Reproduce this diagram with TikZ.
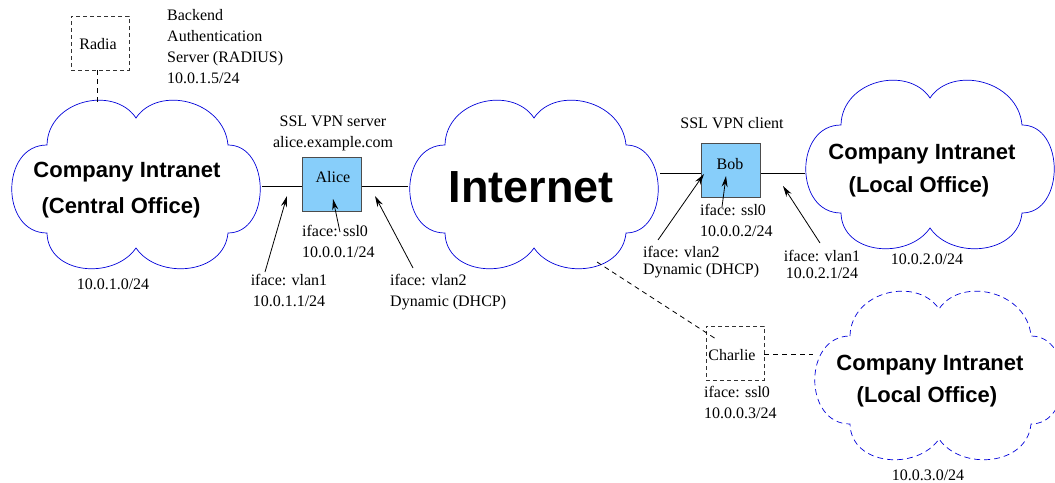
\documentclass[tikz,border=0pt]{standalone}
\usepackage{fontspec}
\setmainfont{Liberation Serif}
\newfontfamily\hv{Liberation Sans}
\usetikzlibrary{arrows.meta}
\tikzset{
  cloudline/.style={draw=blue!85!black, line width=0.7pt},
  hostbox/.style={draw=black!70, line width=1pt, fill={rgb,255:red,135;green,206;blue,250}, minimum width=59pt, minimum height=54pt, inner sep=0pt},
  ghostbox/.style={draw=black!80, dashed, dash pattern=on 4pt off 3pt, line width=0.8pt, minimum width=58pt, minimum height=54pt, inner sep=0pt},
  lbl/.style={font=\fontsize{16}{21}\selectfont, inner sep=0pt},
  lbltight/.style={font=\fontsize{16}{17}\selectfont, inner sep=0pt},
  cloudtxt/.style={font=\hv\bfseries\fontsize{22}{34}\selectfont, inner sep=0pt},
  link/.style={draw=black, line width=0.9pt},
  dlink/.style={draw=black, line width=0.8pt, dashed, dash pattern=on 5pt off 4pt},
  ptr/.style={draw=black, line width=0.8pt, -{Stealth[length=11pt,width=6pt]}},
}
\newcommand{\cloudpath}{(-89,-40) .. controls (-88,-85) and (-22,-100) .. (0,-67)
  .. controls (22,-100) and (88,-85) .. (92,-40)
  .. controls (135,-40) and (135,48) .. (92,48)
  .. controls (88,90) and (22,95) .. (0,63)
  .. controls (-22,95) and (-88,90) .. (-89,48)
  .. controls (-136,48) and (-136,-40) .. (-89,-40) -- cycle}
\begin{document}
\begin{tikzpicture}[x=1pt,y=-1pt]
\useasboundingbox (0,0) rectangle (1055,482);
% clouds
\draw[cloudline, shift={(136,185)}] \cloudpath;
\draw[cloudline, shift={(534,185)}] \cloudpath;
\draw[cloudline, shift={(930,165)}] \cloudpath;
\draw[cloudline, dashed, dash pattern=on 6pt off 4pt, shift={(939,376)}] \cloudpath;

% cloud texts
\node[cloudtxt] (c1a) at (127,172) {Company Intranet};
\node[cloudtxt] (c1b) at (121,208) {(Central Office)};
\node[font=\hv\bfseries\fontsize{45}{50}\selectfont, inner sep=0pt] (inet) at (531,187) {Internet};
\node[cloudtxt] (c2a) at (922,154) {Company Intranet};
\node[cloudtxt] (c2b) at (919,187) {(Local Office)};
\node[cloudtxt] (c3a) at (930,365) {Company Intranet};
\node[cloudtxt] (c3b) at (927,397) {(Local Office)};

% cloud anchor coordinates
\coordinate (cenR) at (262,186);
\coordinate (cenT) at (97,103);
\coordinate (inL) at (408,186);
\coordinate (inR) at (660,173);
\coordinate (inB) at (597,262);
\coordinate (locL) at (805,173);
\coordinate (chcL) at (813,354);

% boxes
\node[hostbox] (alice) at (331.5,184) {};
\node[lbl] (alicet) at (333,177) {Alice};
\node[hostbox] (bob) at (731,170.5) {};
\node[lbl] (bobt) at (730,164) {Bob};
\node[ghostbox] (radia) at (100,43) {};
\node[lbl] (radiat) at (98,44) {Radia};
\node[ghostbox] (charlie) at (735,353) {};
\node[lbl] (charliet) at (732,355) {Charlie};

% links
\draw[link] (cenR) -- (cenR -| alice.west);
\draw[link] (alice.east |- inL) -- (inL);
\draw[link] (inR) -- (inR -| bob.west);
\draw[link] (bob.east |- locL) -- (locL);
\draw[dlink] (radia.south -| cenT) -- (cenT);
\coordinate (chTL) at (716,339);
\draw[dlink] (inB) -- (chTL);
\draw[dlink] (charlie.east |- chcL) -- (chcL);

% labels
\node[lbl, anchor=north west, align=left] (backend) at (167,9) {Backend\\Authentication\\Server (RADIUS)\\10.0.1.5/24};
\node[lbl, align=center] (sslsrv) at (333,133.5) {SSL VPN server\\alice.example.com};
\node[lbl, align=left, anchor=north west] (assl) at (302,225) {iface: ssl0\\10.0.0.1/24};
\node[lbl, align=center, anchor=north] (avlan1) at (289,274) {iface: vlan1\\10.0.1.1/24};
\node[lbl] (cnet1) at (113,284) {10.0.1.0/24};
\node[lbl, align=left, anchor=north west] (avlan2) at (390,274) {iface: vlan2\\Dynamic (DHCP)};
\node[lbl] (sslcli) at (732,123) {SSL VPN client};
\node[lbl, align=left, anchor=north west] (bssl) at (700,204) {iface: ssl0\\10.0.0.2/24};
\node[lbltight, align=left, anchor=north west] (bvlan2) at (643,246) {iface: vlan2\\Dynamic (DHCP)};
\node[lbltight, align=center, anchor=north] (bvlan1) at (822,250) {iface: vlan1\\10.0.2.1/24};
\node[lbl] (cnet2) at (927,259) {10.0.2.0/24};
\node[lbl, align=left, anchor=north west] (cssl) at (704,386) {iface: ssl0\\10.0.0.3/24};
\node[lbl] (cnet3) at (928,475) {10.0.3.0/24};

% pointer arrows
\coordinate (p1s) at (265,272); \coordinate (p1e) at (287,196);
\coordinate (p2s) at (340,232); \coordinate (p2e) at (333,199);
\coordinate (p3s) at (413,268); \coordinate (p3e) at (375,196);
\coordinate (p4s) at (658,240); \coordinate (p4e) at (704,174);
\coordinate (p5s) at (722,207); \coordinate (p5e) at (726,176);
\coordinate (p6s) at (820,243); \coordinate (p6e) at (783,186);
\draw[ptr] (p1s) -- (p1e);
\draw[ptr] (p2s) -- (p2e);
\draw[ptr] (p3s) -- (p3e);
\draw[ptr] (p4s) -- (p4e);
\draw[ptr] (p5s) -- (p5e);
\draw[ptr] (p6s) -- (p6e);
\end{tikzpicture}
\end{document}
